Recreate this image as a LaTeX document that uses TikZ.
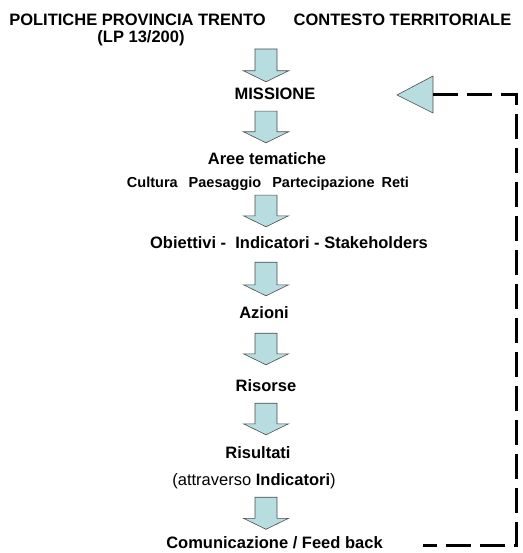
\documentclass[tikz,border=0pt]{standalone}
\usepackage{fontspec}
\setmainfont{Liberation Sans}
\usetikzlibrary{calc}
\definecolor{arrowblue}{RGB}{183,221,225}
\tikzset{
  blockdown/.style={
    to path={
      ($(\tikztostart)+(-11,0)$) -- ($(\tikztotarget)+(-11,11)$)
      -- ($(\tikztotarget)+(-22.5,11)$) -- (\tikztotarget)
      -- ($(\tikztotarget)+(22.5,11)$) -- ($(\tikztotarget)+(11,11)$)
      -- ($(\tikztostart)+(11,0)$) -- cycle
    }
  },
}

\begin{document}
\begin{tikzpicture}
  [
    x=1pt, y=1pt,
    txt/.style =
      {anchor=base, inner sep=0pt, text height=12pt, text depth=3.5pt,
       font=\fontsize{16.5}{19}\selectfont\bfseries},
    small/.style = {txt, font=\fontsize{14.5}{17}\selectfont\bfseries},
    blk/.style = {draw=black!70, line width=0.6pt, fill=arrowblue},
    fb/.style = {line width=3pt, dash pattern=on 25pt off 9pt}
  ]
  \useasboundingbox (0,0) rectangle (522,-553);

  \node [txt] at (137.5,-26) (pol) {POLITICHE PROVINCIA TRENTO};
  \node [txt] at (141,-43)   (lp)  {(LP 13/200)};
  \node [txt] at (402.5,-26) (ctx) {CONTESTO TERRITORIALE};

  \node [txt]   at (275,-100) (missione)   {MISSIONE};
  \node [txt]   at (267,-165) (aree)       {Aree tematiche};
  \node [small] at (268,-188) (cultura)
    {Cultura\hspace{11pt}Paesaggio\hspace{11pt}Partecipazione\hspace{7pt}Reti};
  \node [txt]   at (289,-248) (obiettivi)  {Obiettivi -\ \ Indicatori - Stakeholders};
  \node [txt]   at (264,-318) (azioni)     {Azioni};
  \node [txt]   at (266,-391) (risorse)    {Risorse};
  \node [txt]   at (258,-458) (risultati)  {Risultati};
  \node [txt]   at (254,-485) (attraverso) {\mdseries(attraverso \textbf{Indicatori})};
  \node [txt]   at (274.5,-548) (comunic)  {Comunicazione / Feed back};

  % block arrows down the middle
  \coordinate (axis) at (266,0);
  \coordinate (top1) at (266,-49);
  \coordinate (tip1) at ($(axis |- missione.north)+(0,6)$);
  \coordinate (top2) at ($(axis |- missione.south)+(0,-7.5)$);
  \coordinate (tip2) at ($(axis |- aree.north)+(0,10)$);
  \coordinate (top3) at ($(axis |- cultura.south)+(0,-3.5)$);
  \coordinate (tip3) at ($(axis |- obiettivi.north)+(0,9)$);
  \coordinate (top4) at ($(axis |- obiettivi.south)+(0,-10.5)$);
  \coordinate (tip4) at ($(axis |- azioni.north)+(0,10)$);
  \coordinate (top5) at ($(axis |- azioni.south)+(0,-11.5)$);
  \coordinate (tip5) at ($(axis |- risorse.north)+(0,14)$);
  \coordinate (top6) at ($(axis |- risorse.south)+(0,-8.5)$);
  \coordinate (tip6) at ($(axis |- risultati.north)+(0,11)$);
  \coordinate (top7) at ($(axis |- attraverso.south)+(0,-8.5)$);
  \coordinate (tip7) at ($(axis |- comunic.north)+(0,6.5)$);

  \foreach \i in {1,...,7}
    \draw [blk] (top\i) to[blockdown] (tip\i);

  % feed back loop
  \draw [blk] (397,-95) coordinate (fbtip) -- (433,-76) -- (433,-113) -- cycle;
  \coordinate (fbbase) at (433,-95);
  \coordinate (ne) at (516,-95);
  \coordinate (se) at (516,-545);
  \coordinate (fbend) at (423,-545);
  \draw [fb] (fbbase) -- (ne) -- (se) -- (fbend);

\end{tikzpicture}
\end{document}
